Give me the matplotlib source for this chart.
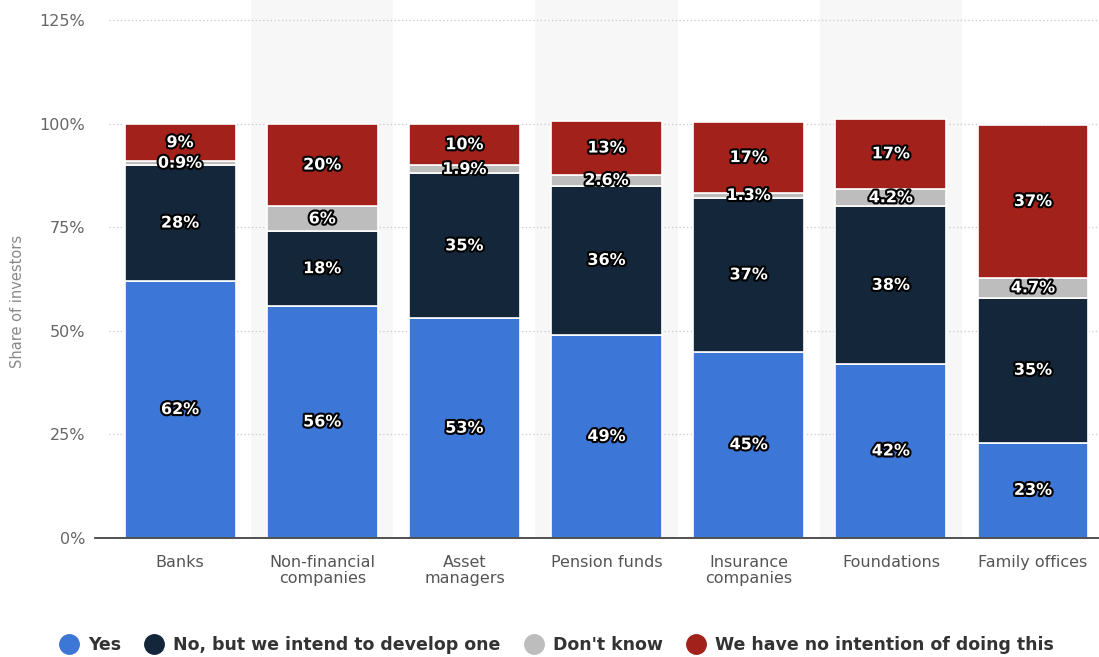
import numpy as np
import matplotlib
matplotlib.use("Agg")
import matplotlib.pyplot as plt
import matplotlib.patheffects as pe
from matplotlib.lines import Line2D

# -------------------------------
# Data
# -------------------------------
categories = ["Banks", "Non-financial\ncompanies", "Asset\nmanagers", "Pension funds",
              "Insurance\ncompanies", "Foundations", "Family offices"]
yes = [62, 56, 53, 49, 45, 42, 23]
no_but = [28, 18, 35, 36, 37, 38, 35]
dont_know = [0.9, 6, 1.9, 2.6, 1.3, 4.2, 4.7]
no_intention = [9, 20, 10, 13, 17, 17, 37]

series_names = ["Yes", "No, but we intend to develop one", "Don't know",
                "We have no intention of doing this"]
colors = ["#3c76d6", "#14263a", "#bdbdbd", "#a3211b"]

plt.rcParams["font.family"] = ["DejaVu Sans"]

fig = plt.figure(figsize=(10.99, 6.57), dpi=100)
W, H = 1099, 657
ax = fig.add_axes([109 / W, (H - 538) / H, (W - 109) / W, (538 - 11.7) / H])

x = np.arange(len(categories))

# alternating background bands (run up to the top edge)
for i in x:
    if i % 2 == 1:
        ax.axvspan(i - 0.5, i + 0.5, ymin=0, ymax=1.03, color="#f7f7f7",
                   zorder=0, lw=0, clip_on=False)

# -------------------------------
# Stacked bars
# -------------------------------
bottom = np.zeros(len(categories))
for vals, name, col in zip([yes, no_but, dont_know, no_intention], series_names, colors):
    vals = np.array(vals, dtype=float)
    ax.bar(x, vals, bottom=bottom, width=0.78, color=col, edgecolor="white",
           linewidth=1.2, zorder=3)
    for xi, b, v in zip(x, bottom, vals):
        ax.text(xi, b + v / 2, f"{v:g}%", ha="center", va="center", color="white",
                fontsize=11.5, fontweight="bold", zorder=5,
                path_effects=[pe.withStroke(linewidth=3, foreground="black")])
    bottom += vals

# -------------------------------
# Styling
# -------------------------------
ax.set_xlim(-0.5, 6.464)
ax.set_ylim(0, 127)
ax.set_yticks([0, 25, 50, 75, 100, 125])
ax.set_yticklabels(["0%", "25%", "50%", "75%", "100%", "125%"])
ax.set_xticks(x)
ax.set_xticklabels(categories)
ax.tick_params(axis="y", length=0, pad=17, labelsize=11.5, labelcolor="#666666")
ax.tick_params(axis="x", length=0, pad=12, labelsize=11.5, labelcolor="#555555")
for lbl in ax.get_xticklabels():
    lbl.set_linespacing(1.1)

for y in [25, 50, 75, 100, 125]:
    ax.axhline(y, color="#c8c8c8", lw=0.9, ls=(0, (1, 2)), zorder=1)

for s in ["top", "right", "left"]:
    ax.spines[s].set_visible(False)
ax.spines["bottom"].set_color("#333333")
ax.spines["bottom"].set_linewidth(1.2)
ax.spines["bottom"].set_zorder(4)
ax.spines["bottom"].set_bounds(-0.6, 6.464)

ax.set_ylabel("Share of investors", color="#888888", fontsize=10.5)
ax.yaxis.set_label_coords(-0.085, 0.45)

# -------------------------------
# Legend
# -------------------------------
handles = [Line2D([0], [0], marker="o", ls="", markersize=14,
                  markerfacecolor=c, markeredgecolor=c) for c in colors]
leg = fig.legend(handles, series_names, loc="center", bbox_to_anchor=(0.506, 1 - 645 / H),
                 ncol=4, frameon=False, fontsize=12.5, handletextpad=0.5,
                 columnspacing=1.3, handlelength=1.2)
for t in leg.get_texts():
    t.set_fontweight("bold")
    t.set_color("#333333")

fig.savefig("out.png", dpi=100)
